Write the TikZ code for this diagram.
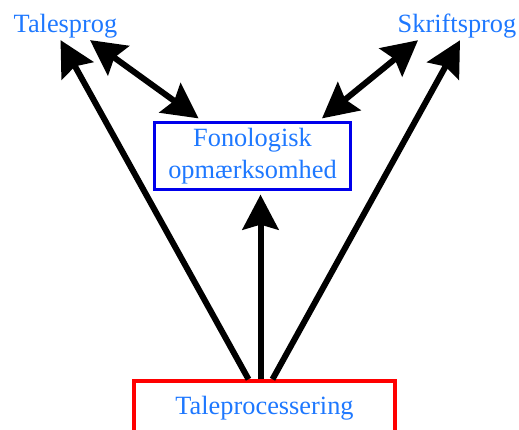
\documentclass[tikz,border=0pt]{standalone}
\usepackage{fontspec}
\setmainfont{Liberation Serif}
\usetikzlibrary{arrows.meta, calc}
\definecolor{langblue}{RGB}{30,120,255}
\definecolor{boxblue}{RGB}{0,0,235}
\definecolor{boxred}{RGB}{255,0,0}
\tikzstyle{langtext} = [text=langblue, inner sep=1pt, font=\fontsize{15}{18}\selectfont]
\tikzstyle{fonbox} = [rectangle, draw=boxblue, line width=0.06cm, minimum width=3.92cm, minimum height=1.3cm, align=center, text=langblue, font=\fontsize{15}{18}\selectfont]
\tikzstyle{talebox} = [rectangle, draw=boxred, line width=0.07cm, minimum width=5.22cm, minimum height=1.08cm, text=langblue, font=\fontsize{15}{18}\selectfont]
\tikzstyle{arrow} = [line width=0.12cm, -{Stealth[length=0.7cm, width=0.72cm, inset=0.1cm]}]
\tikzstyle{dblarrow} = [line width=0.12cm, {Stealth[length=0.7cm, width=0.72cm, inset=0.1cm]}-{Stealth[length=0.7cm, width=0.72cm, inset=0.1cm]}]

\begin{document}
\begin{tikzpicture}[x=0.02cm, y=-0.02cm]
\useasboundingbox (0,0) rectangle (519,429);

% Languages
\node[langtext] (tales) at (65.5,26) {Talesprog};
\node[langtext] (skrift) at (457,26) {Skriftsprog};

% Phonological awareness
\node[fonbox] (fon) at (252.5,156) {Fonologisk\\opmærksomhed};

% Speech processing
\node[talebox] (tale) at (264.5,408) {Taleprocessering};

% Connections
\draw[arrow] ($(tale.north)+(-16,0)$) -- ($(tales.south)+(-5,0)$);
\draw[arrow] ($(tale.north)+(-4,0)$) -- ($(fon.south)+(8,3.5)$);
\draw[arrow] ($(tale.north)+(8,0)$) -- ($(skrift.south)+(3,0)$);
\draw[dblarrow] ($(fon.north)+(-54,-2.5)$) -- ($(tales.south)+(24.5,0)$);
\draw[dblarrow] ($(fon.north)+(69.5,-2.5)$) -- ($(skrift.south)+(-39,0)$);

\end{tikzpicture}
\end{document}
